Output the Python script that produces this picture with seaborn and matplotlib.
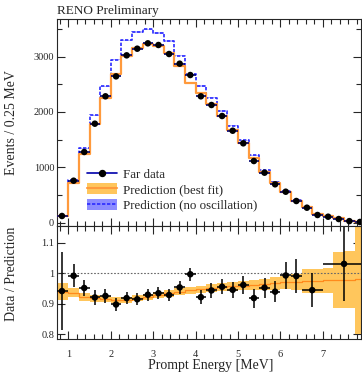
import numpy as np
import matplotlib
matplotlib.use("Agg")
import matplotlib.pyplot as plt
import seaborn as sns
from matplotlib.lines import Line2D
from matplotlib.patches import Patch
from matplotlib.ticker import MultipleLocator, FuncFormatter

# ---------------- data ----------------
bin_edges = [0.7, 1.0, 1.25, 1.5, 1.75, 2.0, 2.25, 2.5, 2.75, 3.0, 3.25, 3.5, 3.75,
             4.0, 4.25, 4.5, 4.75, 5.0, 5.25, 5.5, 5.75, 6.0, 6.25, 6.5, 6.75,
             7.0, 7.25, 7.5, 7.75, 8.0]
far_data = [118, 756, 1275, 1787, 2282, 2643, 3023, 3143, 3240, 3210, 3047, 2872,
            2667, 2282, 2125, 1926, 1660, 1432, 1112, 901, 691, 557, 389, 268,
            136, 105, 63, 25, 10]
pred_best = [118, 717, 1235, 1783, 2256, 2690, 3012, 3160, 3223, 3188, 3071, 2839,
             2528, 2342, 2144, 1923, 1677, 1430, 1169, 915, 712, 551, 389, 279,
             150, 115, 74, 32, 15]
pred_noosc = [125, 765, 1340, 1942, 2466, 2946, 3295, 3442, 3492, 3432, 3284, 3020,
              2678, 2470, 2254, 2016, 1752, 1490, 1215, 948, 736, 568, 400, 286,
              154, 118, 76, 33, 15]

# ratio panel (data / no-oscillation prediction)
ratio_lo = [0.7, 1.0, 1.25, 1.5, 1.75, 2.0, 2.25, 2.5, 2.75, 3.0, 3.25, 3.5, 3.75,
            4.0, 4.25, 4.5, 4.75, 5.0, 5.25, 5.5, 5.75, 6.0, 6.25, 6.5, 7.0]
ratio_hi = [1.0, 1.25, 1.5, 1.75, 2.0, 2.25, 2.5, 2.75, 3.0, 3.25, 3.5, 3.75, 4.0,
            4.25, 4.5, 4.75, 5.0, 5.25, 5.5, 5.75, 6.0, 6.25, 6.5, 7.0, 8.0]
ratio_vals = [0.942, 0.992, 0.952, 0.921, 0.926, 0.898, 0.919, 0.915, 0.930, 0.935,
              0.929, 0.954, 0.997, 0.922, 0.944, 0.956, 0.946, 0.962, 0.919, 0.953,
              0.940, 0.993, 0.991, 0.945, 1.031]
ratio_errs = [0.127, 0.037, 0.027, 0.024, 0.022, 0.020, 0.020, 0.020, 0.020, 0.020,
              0.020, 0.021, 0.022, 0.023, 0.024, 0.025, 0.027, 0.029, 0.031, 0.033,
              0.035, 0.044, 0.055, 0.055, 0.120]
band_center = [0.940, 0.937, 0.922, 0.918, 0.915, 0.913, 0.914, 0.918, 0.923, 0.929,
               0.935, 0.940, 0.944, 0.948, 0.951, 0.954, 0.957, 0.960, 0.962, 0.965,
               0.967, 0.970, 0.972, 0.974, 0.975, 0.977, 0.978, 0.979, 0.980]
band_half = [0.027, 0.014, 0.012, 0.011, 0.010, 0.010, 0.010, 0.010, 0.010, 0.011,
             0.011, 0.012, 0.012, 0.012, 0.013, 0.013, 0.014, 0.015, 0.016, 0.018,
             0.020, 0.022, 0.025, 0.040, 0.040, 0.040, 0.093, 0.093, 0.180]

# ---------------- style ----------------
sns.set_theme(style="ticks")
plt.rcParams["font.family"] = ["Liberation Serif", "DejaVu Serif"]
plt.rcParams["axes.linewidth"] = 0.8

ORANGE_BAND = "#FFC65C"
ORANGE_LINE = "#FF9A3C"
ORANGE_CENTER = "#FF8A1C"
BLUE_BAND = "#8C8CFF"
BLUE_LINE = "#2A2AFF"
DATA_BAR = "#00006E"

edges = np.array(bin_edges)
centers = (edges[:-1] + edges[1:]) / 2
halfw = (edges[1:] - edges[:-1]) / 2


def stepped(v):
    v = list(v)
    return np.array(v + [v[-1]])


fig = plt.figure(figsize=(3.62, 3.74), dpi=100)
ax1 = fig.add_axes([57 / 362, 1 - 226 / 374, 304 / 362, 207 / 374])
ax2 = fig.add_axes([57 / 362, 1 - 339 / 374, 304 / 362, 113 / 374])

# ---------------- top panel ----------------
pb = np.array(pred_best, dtype=float)
pn = np.array(pred_noosc, dtype=float)
rel = np.array(band_half) / np.array(band_center) * 0.35
ax1.fill_between(edges, stepped(pn * (1 - rel)), stepped(pn * (1 + rel)),
                 step="post", color=BLUE_BAND, lw=0, alpha=0.6, zorder=1)
ax1.fill_between(edges, stepped(pb * (1 - rel)), stepped(pb * (1 + rel)),
                 step="post", color=ORANGE_BAND, lw=0, zorder=2)
sns.lineplot(x=edges, y=stepped(pred_noosc), drawstyle="steps-post", estimator=None,
             sort=False, color=BLUE_LINE, lw=1.2, ax=ax1, zorder=3)
ax1.lines[-1].set_linestyle((0, (2, 1)))
sns.lineplot(x=edges, y=stepped(pred_best), drawstyle="steps-post", estimator=None,
             sort=False, color=ORANGE_LINE, lw=1.6, ax=ax1, zorder=4)
ax1.errorbar(centers, far_data, xerr=halfw, fmt="none", ecolor=DATA_BAR, elinewidth=1.2,
             capsize=0, zorder=5)
sns.scatterplot(x=centers, y=far_data, color="black", s=22, edgecolor="none",
                ax=ax1, zorder=6)

ax1.set_xlim(0.733, 7.90)
ax1.set_ylim(-63, 3680)
ax1.xaxis.set_major_locator(MultipleLocator(1))
ax1.xaxis.set_minor_locator(MultipleLocator(0.2))
ax1.yaxis.set_major_locator(MultipleLocator(1000))
ax1.yaxis.set_minor_locator(MultipleLocator(500))
ax1.tick_params(which="both", direction="in", top=True, right=True, labelbottom=False,
                labelsize=7.5, pad=2, width=0.8)
ax1.tick_params(which="major", length=6)
ax1.tick_params(which="minor", length=3.5)
ax1.set_ylabel("Events / 0.25 MeV", fontsize=10)
ax1.yaxis.set_label_coords(-0.128, 0.5)

h1 = Line2D([], [], color="#0000AA", lw=1.2, marker="o", markerfacecolor="black",
            markeredgecolor="black", markersize=4.3)
h2 = (Patch(facecolor=ORANGE_BAND, edgecolor="none"),
      Line2D([], [], color=ORANGE_LINE, lw=1.5))
h3 = (Patch(facecolor=BLUE_BAND, edgecolor="none"),
      Line2D([], [], color=BLUE_LINE, lw=1.2, ls=(0, (2, 1))))
ax1.legend([h1, h2, h3], ["Far data", "Prediction (best fit)", "Prediction (no oscillation)"],
           loc="upper left", bbox_to_anchor=(0.100, 0.280), frameon=False, borderpad=0,
           borderaxespad=0, handlelength=2.3, handleheight=0.9, handletextpad=0.45,
           labelspacing=0.2, prop=dict(size=9.3))

# ---------------- ratio panel ----------------
bc = np.array(band_center)
bh = np.array(band_half)
ax2.fill_between(edges, stepped(bc - bh), stepped(bc + bh), step="post",
                 color=ORANGE_BAND, lw=0, zorder=1)
sns.lineplot(x=edges, y=stepped(band_center), drawstyle="steps-post", estimator=None,
             sort=False, color=ORANGE_CENTER, lw=0.9, ax=ax2, zorder=2)
ax2.axhline(1.0, color="#666666", ls=(0, (1.5, 1.5)), lw=0.8, zorder=2)
rlo = np.array(ratio_lo)
rhi = np.array(ratio_hi)
rc = (rlo + rhi) / 2
ax2.errorbar(rc, ratio_vals, xerr=(rhi - rlo) / 2, yerr=ratio_errs, fmt="none",
             ecolor="black", elinewidth=1.1, capsize=0, zorder=4)
sns.scatterplot(x=rc, y=ratio_vals, color="black", s=22, edgecolor="none", ax=ax2,
                zorder=5)

ax2.set_xlim(0.733, 7.90)
ax2.set_ylim(0.785, 1.155)
ax2.xaxis.set_major_locator(MultipleLocator(1))
ax2.xaxis.set_minor_locator(MultipleLocator(0.2))
ax2.yaxis.set_major_locator(MultipleLocator(0.1))
ax2.yaxis.set_major_formatter(FuncFormatter(lambda v, p: f"{v:g}"))
ax2.tick_params(which="both", direction="in", top=True, right=True, labelsize=7.5,
                width=0.8)
ax2.tick_params(axis="x", pad=8)
ax2.tick_params(axis="y", pad=2)
ax2.tick_params(which="major", length=6)
ax2.tick_params(which="minor", length=3.5)
ax2.set_ylabel("Data / Prediction", fontsize=10)
ax2.yaxis.set_label_coords(-0.128, 0.58)
ax2.set_xlabel("Prompt Energy [MeV]", fontsize=10)
ax2.xaxis.set_label_coords(0.507, -0.175)

fig.text(57 / 362, 1 - 11 / 374, "RENO Preliminary", fontsize=9.5, va="center", ha="left")

fig.savefig("out.png", dpi=100)
